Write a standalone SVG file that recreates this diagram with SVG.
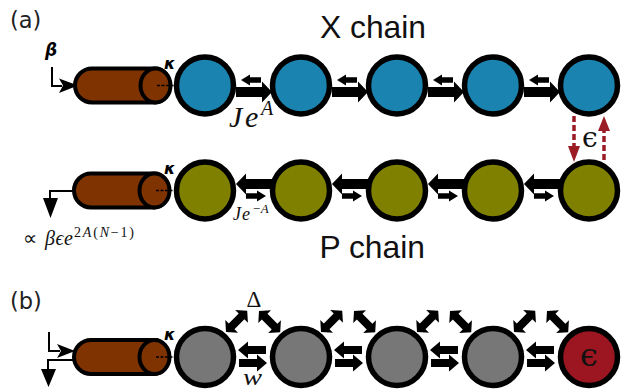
<svg xmlns="http://www.w3.org/2000/svg" width="623" height="390" viewBox="0 0 623 390">
<style>
.node{stroke:#000;stroke-width:5.500}
.blue{fill:#1a83b0}.olive{fill:#808000}.gray{fill:#777}.red{fill:#9b1620}
.brown{fill:#7f3300;stroke:#000;stroke-width:4}
.dash{fill:none;stroke:#000;stroke-width:1.500;stroke-dasharray:3 1.500}
.wire{fill:none;stroke:#000;stroke-width:2}
.ep{fill:none;stroke:#9b1c24;stroke-width:3.500;stroke-dasharray:6 3}
.eh{fill:#9b1c24}
.sans{font-family:"DejaVu Sans",sans-serif;fill:#222}
.arial{font-family:"Liberation Sans",Arial,sans-serif;fill:#111}
.math{font-family:"Liberation Serif",serif;font-style:italic;fill:#111}
.up{font-family:"Liberation Serif",serif;fill:#111}
.eps{font-family:"DejaVu Serif",serif;fill:#111}
.bm{font-family:"DejaVu Sans",sans-serif;font-style:italic;font-weight:bold;fill:#000}
</style>
<defs>
<path id="big" d="M0-5H26V-10.500L36 0 26 10.500V5H0Z"/>
<path id="small" d="M0-2.800H11V-5.500L20 0 11 5.500V2.800H0Z"/>
<path id="mid" d="M0-4H18V-8.500L28 0 18 8.500V4H0Z"/>
<path id="dbl" d="M0 0L8-9V-4H22V-9L30 0 22 9V4H8V9Z"/>
<g id="cyl"><path class="brown" d="M92-17H155A15 17 0 0 1 155 17H92A17 17 0 0 1 92-17Z"/><ellipse class="brown" cx="155.500" cy="0" rx="15" ry="17"/></g>
</defs>
<g id="connectors">
<use href="#big" x="236" y="92"/><use href="#big" x="332" y="92"/><use href="#big" x="428" y="92"/><use href="#big" x="524" y="92"/>
<use href="#small" transform="translate(261 80) scale(-1 1)"/><use href="#small" transform="translate(357 80) scale(-1 1)"/><use href="#small" transform="translate(453 80) scale(-1 1)"/><use href="#small" transform="translate(549 80) scale(-1 1)"/>
<use href="#big" transform="translate(272 184) scale(-1 1)"/><use href="#big" transform="translate(368 184) scale(-1 1)"/><use href="#big" transform="translate(464 184) scale(-1 1)"/><use href="#big" transform="translate(560 184) scale(-1 1)"/>
<use href="#small" x="246" y="196"/><use href="#small" x="342" y="196"/><use href="#small" x="438" y="196"/><use href="#small" x="534" y="196"/>
<use href="#mid" transform="translate(266 350) scale(-1 1)"/><use href="#mid" transform="translate(362 350) scale(-1 1)"/><use href="#mid" transform="translate(458 350) scale(-1 1)"/><use href="#mid" transform="translate(554 350) scale(-1 1)"/>
<use href="#mid" x="239" y="363"/><use href="#mid" x="335" y="363"/><use href="#mid" x="431" y="363"/><use href="#mid" x="527" y="363"/>
<use href="#dbl" transform="translate(226 332) rotate(-45)"/><use href="#dbl" transform="translate(259 311) rotate(45)"/>
<use href="#dbl" transform="translate(321 332) rotate(-45)"/><use href="#dbl" transform="translate(354 311) rotate(45)"/>
<use href="#dbl" transform="translate(417 332) rotate(-45)"/><use href="#dbl" transform="translate(450 311) rotate(45)"/>
<use href="#dbl" transform="translate(514 332) rotate(-45)"/><use href="#dbl" transform="translate(547 311) rotate(45)"/>
<path class="ep" d="M574 116V147"/><path class="eh" d="M568 146H580L574 162Z"/>
<path class="ep" d="M604 160V130"/><path class="eh" d="M598 131H610L604 116Z"/>
<path class="wire" d="M52 67V86H62"/><path d="M59 78.500L78 85.500 59 93 63 85.500Z"/>
<path class="wire" d="M73 191H50V200"/><path d="M43 198H58L50.500 218Z"/>
<path class="wire" d="M49 332V351H60"/><path d="M57 344L75 351 57 358 61 351Z"/>
<path class="wire" d="M73 360H48V370"/><path d="M41 369H56L48.500 387Z"/>
</g>
<g id="cavity-a" transform="translate(0 85.500)"><use href="#cyl"/><path class="dash" d="M157 0H175"/></g>
<g id="cavity-p" transform="translate(-1 190.500)"><use href="#cyl"/><path class="dash" d="M157 0H176"/></g>
<g id="cavity-b" transform="translate(-1 357)"><use href="#cyl"/><path class="dash" d="M157 0H176"/></g>
<g id="x1"><circle class="node blue" cx="205" cy="85.500" r="28.500"/></g>
<g id="x2"><circle class="node blue" cx="301" cy="85.500" r="28.500"/></g>
<g id="x3"><circle class="node blue" cx="397" cy="85.500" r="28.500"/></g>
<g id="x4"><circle class="node blue" cx="493" cy="85.500" r="28.500"/></g>
<g id="x5"><circle class="node blue" cx="589" cy="85.500" r="28.500"/></g>
<g id="p1"><circle class="node olive" cx="205" cy="190.500" r="28.500"/></g>
<g id="p2"><circle class="node olive" cx="301" cy="190.500" r="28.500"/></g>
<g id="p3"><circle class="node olive" cx="397" cy="190.500" r="28.500"/></g>
<g id="p4"><circle class="node olive" cx="493" cy="190.500" r="28.500"/></g>
<g id="p5"><circle class="node olive" cx="589" cy="190.500" r="28.500"/></g>
<g id="b1"><circle class="node gray" cx="205" cy="357" r="28.500"/></g>
<g id="b2"><circle class="node gray" cx="301" cy="357" r="28.500"/></g>
<g id="b3"><circle class="node gray" cx="397" cy="357" r="28.500"/></g>
<g id="b4"><circle class="node gray" cx="493" cy="357" r="28.500"/></g>
<g id="b5"><circle class="node red" cx="589" cy="357" r="28.500"/><text class="eps" x="589" y="366" font-size="32" text-anchor="middle">ϵ</text></g>
<g id="labels">
<text class="sans" x="10" y="28" font-size="22.500">(a)</text>
<text class="sans" x="10" y="309" font-size="22.500">(b)</text>
<text class="arial" x="320" y="38" font-size="31.800">X chain</text>
<text class="arial" x="319.500" y="258" font-size="31.800">P chain</text>
<text class="bm" x="45" y="56" font-size="17">β</text>
<text class="bm" x="164" y="69" font-size="16">κ</text>
<text class="bm" x="164" y="174" font-size="16">κ</text>
<text class="bm" x="164" y="340" font-size="16">κ</text>
<text class="math" x="229" y="127" font-size="30">J<tspan x="245">e</tspan><tspan font-size="20" x="261" y="115">A</tspan></text>
<text class="math" x="233" y="220" font-size="18">J<tspan x="242">e</tspan><tspan font-size="13" x="252" y="213">−A</tspan></text>
<text class="up" x="23" y="245" font-size="20">∝</text>
<text class="math" x="45" y="245" font-size="20" textLength="28">βϵe</text>
<text class="up" x="74" y="237" font-size="14" textLength="60">2<tspan font-style="italic">A</tspan>(<tspan font-style="italic">N</tspan>−1)</text>
<text class="eps" x="582" y="147" font-size="28">ϵ</text>
<text class="up" x="254" y="307" font-size="23" text-anchor="middle">Δ</text>
<text class="math" x="243" y="385" font-size="23" textLength="19" lengthAdjust="spacingAndGlyphs">w</text>
</g>
</svg>
